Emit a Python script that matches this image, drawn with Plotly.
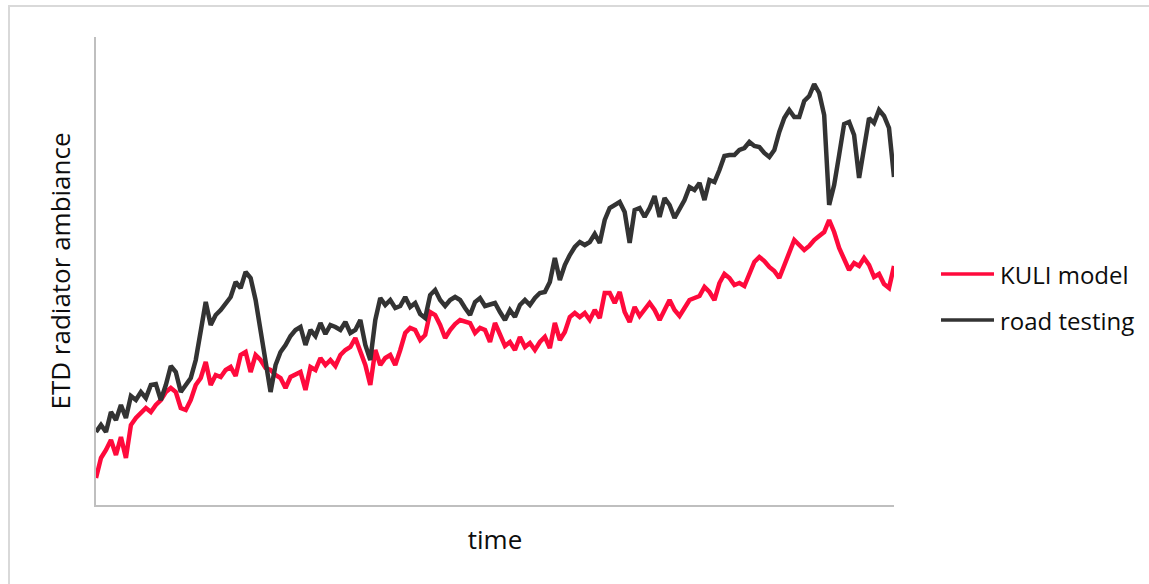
import plotly.graph_objects as go

# Sample index along the drive (uniform time steps)
time_steps = list(range(161))

# Radiator ambient temperature, simulation vs. measured
kuli_model = [
    2.7, 4.7, 5.5, 6.5, 5.0, 6.8, 4.7, 8.0, 8.7, 9.2,
    9.7, 9.3, 10.0, 10.5, 11.3, 11.7, 11.3, 9.7, 9.5, 10.5,
    12.0, 12.7, 14.3, 12.0, 13.0, 12.8, 13.5, 13.8, 12.9, 15.0,
    15.3, 13.3, 15.0, 14.5, 13.7, 13.5, 13.0, 12.7, 11.7, 12.8,
    13.0, 13.3, 11.5, 13.8, 13.5, 14.7, 14.0, 14.5, 13.9, 15.0,
    15.5, 15.8, 16.7, 15.3, 14.0, 12.0, 15.5, 14.0, 14.7, 15.0,
    14.0, 15.5, 17.2, 17.7, 17.5, 16.5, 17.0, 19.3, 19.0, 18.0,
    16.7, 17.5, 18.1, 18.5, 18.3, 18.2, 17.2, 17.7, 17.5, 16.3,
    18.2, 17.0, 15.9, 16.3, 15.5, 16.8, 15.8, 16.2, 15.5, 16.3,
    16.8, 15.7, 18.2, 16.5, 17.3, 18.8, 19.2, 18.8, 19.2, 18.5,
    19.5, 18.7, 21.2, 21.2, 20.2, 21.3, 19.3, 18.3, 19.8, 18.9,
    19.5, 20.2, 19.5, 18.5, 19.5, 20.5, 19.5, 18.9, 19.7, 20.5,
    20.7, 20.9, 21.8, 21.3, 20.5, 22.2, 23.1, 22.7, 22.0, 22.2,
    21.9, 23.0, 24.3, 24.8, 24.4, 23.8, 23.4, 22.7, 24.0, 25.0,
    26.5, 26.0, 25.5, 25.9, 26.5, 26.9, 27.3, 28.5, 27.3, 25.7,
    24.7, 23.5, 24.2, 23.9, 24.7, 24.0, 22.8, 23.1, 22.1, 21.7,
    23.9,
]

road_testing = [
    7.3, 8.0, 7.3, 9.3, 8.5, 10.0, 8.7, 10.9, 10.5, 11.3,
    10.7, 12.0, 12.1, 10.5, 12.0, 13.9, 13.3, 11.3, 12.0, 12.7,
    14.5, 17.5, 20.3, 18.0, 19.0, 19.5, 20.1, 20.8, 22.3, 21.7,
    23.3, 22.7, 20.5, 17.2, 14.0, 11.3, 14.0, 15.3, 16.0, 16.9,
    17.5, 17.8, 16.0, 17.5, 16.9, 18.2, 17.1, 18.0, 17.8, 17.5,
    18.3, 17.2, 17.5, 18.5, 16.0, 14.5, 18.5, 20.7, 20.0, 20.5,
    19.7, 19.9, 20.8, 19.8, 20.2, 19.1, 18.7, 21.0, 21.5, 20.5,
    19.9, 20.5, 20.8, 20.5, 19.7, 19.0, 20.3, 20.7, 19.9, 20.0,
    20.2, 19.3, 18.5, 19.5, 18.8, 20.0, 20.5, 20.0, 20.7, 21.2,
    21.3, 22.3, 24.7, 22.5, 24.0, 25.0, 25.8, 26.3, 26.0, 26.3,
    27.1, 26.2, 28.5, 29.7, 30.0, 30.3, 29.3, 26.2, 29.5, 29.7,
    28.8, 29.7, 30.9, 28.8, 30.7, 30.0, 28.7, 29.7, 30.5, 31.8,
    31.5, 32.2, 30.5, 32.5, 32.3, 33.5, 34.9, 35.0, 35.0, 35.5,
    35.7, 36.3, 35.9, 35.8, 35.2, 34.8, 35.5, 37.3, 38.7, 39.5,
    38.8, 38.8, 40.4, 40.9, 42.1, 41.2, 39.0, 30.0, 32.0, 35.0,
    38.1, 38.3, 37.0, 32.7, 36.0, 38.7, 38.2, 39.5, 38.9, 37.7,
    32.8,
]

series_names = ["KULI model", "road testing"]
series_colors = ["#FF0A3C", "#333333"]

FONT = "Open Sans"
TEXT_COLOR = "#0D0D0D"

fig = go.Figure()
for name, values, color in zip(series_names, [kuli_model, road_testing], series_colors):
    fig.add_trace(go.Scatter(
        x=time_steps, y=values, name=name, mode="lines",
        line=dict(color=color, width=4.5),
        showlegend=False,
    ))

# Legend drawn beside the plot: short line sample followed by the label
legend_rows = [(274, series_names[0], series_colors[0]), (320, series_names[1], series_colors[1])]
W, H = 1149, 584
L, R, T, B = 96, 894, 37, 505
pw, ph = R - L, B - T

def px_x(px):
    return (px - L) / pw

def px_y(py):
    return (B - py) / ph

shapes = []
annotations = []
for py, label, color in legend_rows:
    shapes.append(dict(type="line", xref="paper", yref="paper",
                       x0=px_x(941), x1=px_x(994), y0=px_y(py), y1=px_y(py),
                       line=dict(color=color, width=3.5)))
    annotations.append(dict(xref="paper", yref="paper", x=px_x(998), y=px_y(py),
                            text=label, showarrow=False, xanchor="left", yanchor="middle",
                            font=dict(family=FONT, size=24, color=TEXT_COLOR)))

# Chart-area outline
shapes.append(dict(type="rect", xref="paper", yref="paper",
                   x0=px_x(9), x1=px_x(1170), y0=px_y(600), y1=px_y(6),
                   line=dict(color="#D9D9D9", width=2), fillcolor="rgba(0,0,0,0)", layer="below"))

fig.update_layout(
    width=W, height=H,
    margin=dict(l=L, r=W - R, t=T, b=H - B, pad=0),
    paper_bgcolor="white", plot_bgcolor="white",
    font=dict(family=FONT, size=24, color=TEXT_COLOR),
    shapes=shapes, annotations=annotations,
)
fig.update_xaxes(
    range=[0, 160], showgrid=False, zeroline=False, showticklabels=False, ticks="",
    showline=True, linecolor="#BFBFBF", linewidth=2,
    title=dict(text="time", font=dict(family=FONT, size=26, color=TEXT_COLOR), standoff=25),
)
fig.update_yaxes(
    range=[0, 46.8], showgrid=False, zeroline=False, showticklabels=False, ticks="",
    showline=True, linecolor="#BFBFBF", linewidth=2,
    title=dict(text="ETD radiator ambiance", font=dict(family=FONT, size=26, color=TEXT_COLOR), standoff=16),
)

fig.write_html("out.html")
